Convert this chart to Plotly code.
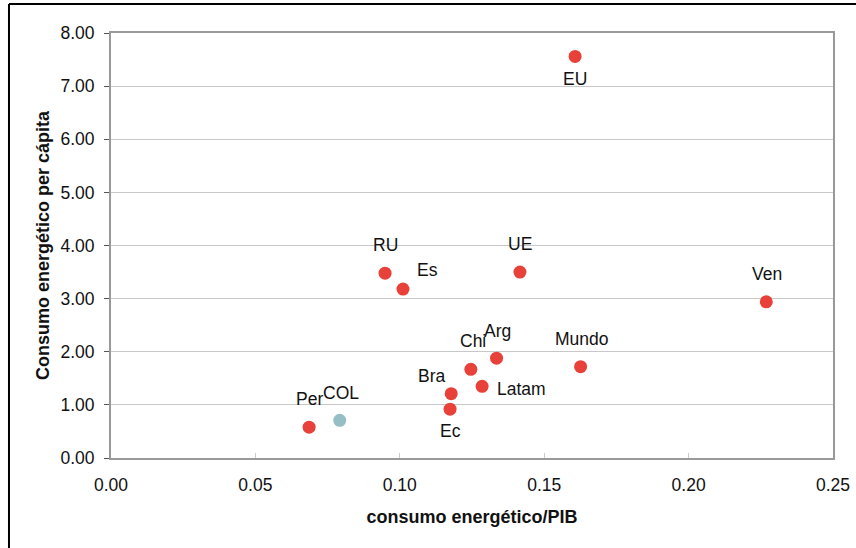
import plotly.graph_objects as go

# Energy intensity vs per-capita energy consumption
labels = ["EU", "RU", "Es", "UE", "Ven", "Mundo", "Arg", "Chi", "Latam", "Bra", "Ec", "COL", "Per"]
consumo_pib = [0.1607, 0.0949, 0.1011, 0.1416, 0.2269, 0.1626, 0.1335, 0.1246, 0.1285, 0.1178, 0.1174, 0.0792, 0.0686]
consumo_per_capita = [7.56, 3.48, 3.18, 3.50, 2.94, 1.72, 1.88, 1.67, 1.35, 1.21, 0.92, 0.71, 0.58]

# label offsets in pixels (dx, dy) relative to each marker
label_offsets = {
    "EU": (0, -23), "RU": (0, 28), "Es": (25, 19), "UE": (0, 28), "Ven": (1, 28),
    "Mundo": (1, 28), "Arg": (1, 27), "Chi": (2, 28), "Latam": (39, -3),
    "Bra": (-19, 18), "Ec": (0, -22), "COL": (1, 27), "Per": (0, 28),
}

RED = "#E8413A"
TEAL = "#96BEC4"
colors = [TEAL if lab == "COL" else RED for lab in labels]

FONT = "Liberation Sans, Arial, sans-serif"

fig = go.Figure()
fig.add_trace(go.Scatter(
    x=consumo_pib, y=consumo_per_capita, mode="markers",
    marker=dict(size=13, color=colors, line=dict(width=0)),
    hoverinfo="skip", showlegend=False,
))

for lab, xv, yv in zip(labels, consumo_pib, consumo_per_capita):
    dx, dy = label_offsets[lab]
    fig.add_annotation(x=xv, y=yv, xref="x", yref="y", text=lab, showarrow=False,
                       xshift=dx, yshift=dy, font=dict(family=FONT, size=17.5, color="#111111"))

# outer chart frame (left and top edges visible)
fig.add_shape(type="line", xref="paper", yref="paper", x0=-0.1413, x1=-0.1413, y0=1.068, y1=-0.3,
              line=dict(color="black", width=2))
fig.add_shape(type="line", xref="paper", yref="paper", x0=-0.1413, x1=1.1, y0=1.068, y1=1.068,
              line=dict(color="black", width=2))

fig.update_layout(
    width=856, height=548,
    margin=dict(l=111, r=23, t=33, b=90),
    paper_bgcolor="white", plot_bgcolor="white",
    font=dict(family=FONT, size=17.5, color="#111111"),
    xaxis=dict(
        range=[0, 0.25], tickvals=[0, 0.05, 0.10, 0.15, 0.20, 0.25],
        ticktext=["0.00", "0.05", "0.10", "0.15", "0.20", "0.25"],
        showgrid=False, zeroline=False, automargin=False,
        showline=True, linecolor="#999999", linewidth=2, mirror=True,
        ticks="inside", ticklen=5, tickcolor="#cccccc",
        tickfont=dict(size=17.5), ticklabelstandoff=10,
        title=dict(text="<b>consumo energético/PIB</b>", font=dict(size=18), standoff=16),
    ),
    yaxis=dict(
        range=[0, 8], tickvals=[0, 1, 2, 3, 4, 5, 6, 7, 8],
        ticktext=["0.00", "1.00", "2.00", "3.00", "4.00", "5.00", "6.00", "7.00", "8.00"],
        showgrid=True, gridcolor="#c8c8c8", gridwidth=1, zeroline=False, automargin=False,
        showline=True, linecolor="#999999", linewidth=2, mirror=True,
        ticks="outside", ticklen=5, tickcolor="#555555",
        tickfont=dict(size=17.5), ticklabelstandoff=6,
        title=dict(text="<b>Consumo energético per cápita</b>", font=dict(size=18), standoff=6),
    ),
)

fig.write_html("out.html")
